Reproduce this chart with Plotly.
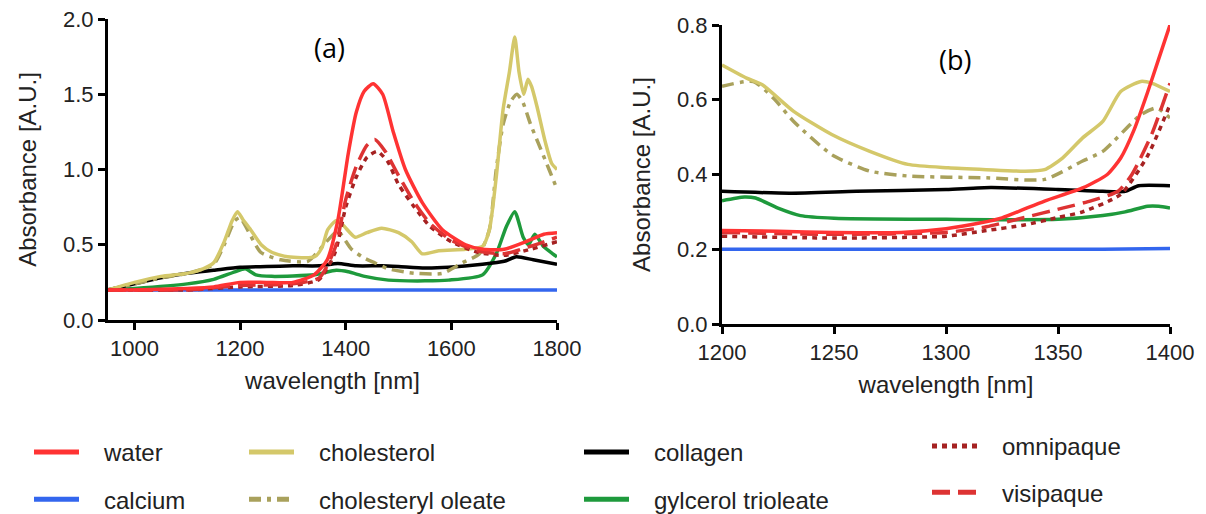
import plotly.graph_objects as go

# ---------------- data: panel (a) ----------------
wl_water_a = [950, 1000, 1100, 1150, 1200, 1250, 1300, 1340, 1365, 1385, 1405, 1420, 1435, 1452, 1470, 1490, 1513, 1545, 1583, 1627, 1660, 1700, 1748, 1775, 1800]
ab_water_a = [0.20, 0.20, 0.21, 0.22, 0.25, 0.25, 0.25, 0.30, 0.40, 0.66, 1.11, 1.38, 1.52, 1.57, 1.50, 1.25, 1.00, 0.78, 0.60, 0.50, 0.47, 0.47, 0.53, 0.57, 0.58]

wl_omni_a = [950, 1100, 1200, 1300, 1350, 1380, 1400, 1420, 1440, 1460, 1480, 1500, 1530, 1560, 1600, 1650, 1700, 1750, 1800]
ab_omni_a = [0.20, 0.20, 0.22, 0.23, 0.27, 0.45, 0.75, 0.95, 1.08, 1.12, 1.05, 0.90, 0.75, 0.62, 0.52, 0.45, 0.43, 0.47, 0.52]

wl_visi_a = [950, 1100, 1200, 1300, 1350, 1380, 1400, 1420, 1440, 1455, 1475, 1500, 1530, 1560, 1600, 1650, 1700, 1750, 1800]
ab_visi_a = [0.20, 0.20, 0.23, 0.24, 0.28, 0.48, 0.80, 1.02, 1.16, 1.20, 1.12, 0.96, 0.78, 0.64, 0.53, 0.46, 0.44, 0.49, 0.55]

wl_chol_a = [950, 1000, 1050, 1100, 1130, 1150, 1170, 1185, 1195, 1205, 1220, 1240, 1260, 1290, 1341, 1355, 1366, 1382, 1395, 1418, 1440, 1468, 1500, 1525, 1545, 1576, 1627, 1659, 1672, 1685, 1698, 1710, 1720, 1728, 1737, 1745, 1752, 1762, 1778, 1790, 1800]
ab_chol_a = [0.20, 0.25, 0.29, 0.31, 0.34, 0.38, 0.52, 0.66, 0.72, 0.67, 0.60, 0.50, 0.45, 0.42, 0.42, 0.48, 0.60, 0.66, 0.63, 0.55, 0.58, 0.61, 0.58, 0.52, 0.44, 0.46, 0.47, 0.49, 0.60, 0.95, 1.40, 1.65, 1.88, 1.65, 1.50, 1.60, 1.55, 1.42, 1.18, 1.04, 1.00]

wl_oleate_a = [950, 1000, 1050, 1100, 1150, 1170, 1190, 1200, 1214, 1239, 1277, 1328, 1366, 1385, 1411, 1436, 1455, 1481, 1532, 1583, 1621, 1653, 1672, 1685, 1698, 1712, 1724, 1735, 1750, 1764, 1785, 1800]
ab_oleate_a = [0.20, 0.24, 0.28, 0.31, 0.37, 0.50, 0.66, 0.68, 0.60, 0.45, 0.40, 0.39, 0.53, 0.59, 0.47, 0.41, 0.38, 0.34, 0.31, 0.31, 0.38, 0.44, 0.60, 1.00, 1.30, 1.45, 1.50, 1.45, 1.30, 1.18, 1.00, 0.87]

wl_coll_a = [950, 1000, 1050, 1100, 1150, 1200, 1250, 1300, 1350, 1385, 1420, 1468, 1500, 1550, 1595, 1659, 1700, 1723, 1755, 1800]
ab_coll_a = [0.20, 0.24, 0.28, 0.31, 0.33, 0.35, 0.355, 0.36, 0.36, 0.375, 0.36, 0.36, 0.355, 0.345, 0.35, 0.37, 0.39, 0.42, 0.40, 0.37]

wl_gly_a = [950, 1000, 1100, 1150, 1190, 1210, 1230, 1260, 1341, 1382, 1405, 1436, 1481, 1550, 1595, 1659, 1685, 1704, 1720, 1736, 1746, 1758, 1774, 1792, 1800]
ab_gly_a = [0.20, 0.21, 0.24, 0.27, 0.32, 0.34, 0.30, 0.29, 0.30, 0.33, 0.32, 0.29, 0.265, 0.26, 0.265, 0.30, 0.44, 0.62, 0.72, 0.55, 0.50, 0.57, 0.49, 0.44, 0.42]

wl_calc_a = [950, 1200, 1400, 1600, 1800]
ab_calc_a = [0.20, 0.20, 0.20, 0.20, 0.20]

# ---------------- data: panel (b) ----------------
wl_water_b = [1200, 1225, 1250, 1280, 1300, 1315, 1325, 1344, 1361, 1372, 1378, 1384, 1390, 1395, 1400]
ab_water_b = [0.25, 0.248, 0.245, 0.245, 0.255, 0.27, 0.284, 0.329, 0.364, 0.40, 0.444, 0.52, 0.62, 0.71, 0.80]

wl_visi_b = [1200, 1250, 1300, 1318, 1335, 1352, 1365, 1377, 1383, 1392, 1400]
ab_visi_b = [0.245, 0.24, 0.245, 0.26, 0.285, 0.31, 0.33, 0.356, 0.40, 0.51, 0.644]

wl_omni_b = [1200, 1250, 1300, 1318, 1335, 1350, 1361, 1378, 1390, 1400]
ab_omni_b = [0.235, 0.23, 0.235, 0.25, 0.265, 0.285, 0.30, 0.347, 0.45, 0.587]

wl_chol_b = [1200, 1211, 1218, 1232, 1249, 1266, 1283, 1301, 1318, 1335, 1344, 1352, 1361, 1370, 1378, 1387, 1392, 1400]
ab_chol_b = [0.693, 0.658, 0.64, 0.569, 0.507, 0.462, 0.427, 0.418, 0.413, 0.409, 0.413, 0.444, 0.498, 0.542, 0.622, 0.649, 0.644, 0.622]

wl_oleate_b = [1200, 1214, 1223, 1232, 1249, 1266, 1283, 1318, 1344, 1361, 1370, 1387, 1394, 1400]
ab_oleate_b = [0.636, 0.649, 0.604, 0.542, 0.453, 0.409, 0.396, 0.391, 0.387, 0.436, 0.462, 0.56, 0.578, 0.551]

wl_coll_b = [1200, 1230, 1260, 1300, 1320, 1350, 1370, 1380, 1386, 1400]
ab_coll_b = [0.355, 0.35, 0.355, 0.36, 0.365, 0.36, 0.355, 0.355, 0.37, 0.37]

wl_gly_b = [1200, 1210, 1215, 1225, 1235, 1250, 1300, 1350, 1370, 1380, 1390, 1395, 1400]
ab_gly_b = [0.33, 0.34, 0.337, 0.31, 0.29, 0.283, 0.28, 0.28, 0.29, 0.30, 0.315, 0.315, 0.31]

wl_calc_b = [1200, 1300, 1370, 1400]
ab_calc_b = [0.20, 0.20, 0.20, 0.202]

# ---------------- styles ----------------
series = [
    # name, color, dash, legend, a-data, b-data
    ("calcium", "#3366EE", "solid", "legend", (wl_calc_a, ab_calc_a), (wl_calc_b, ab_calc_b)),
    ("glycerol", "#1E9A3C", "solid", "legend3", (wl_gly_a, ab_gly_a), (wl_gly_b, ab_gly_b)),
    ("collagen", "#000000", "solid", "legend3", (wl_coll_a, ab_coll_a), (wl_coll_b, ab_coll_b)),
    ("cholesteryl oleate", "#A9A15C", "12px,6px,4px,6px", "legend2", (wl_oleate_a, ab_oleate_a), (wl_oleate_b, ab_oleate_b)),
    ("cholesterol", "#D4C86A", "solid", "legend2", (wl_chol_a, ab_chol_a), (wl_chol_b, ab_chol_b)),
    ("omnipaque", "#A52222", "5px,5px", "legend4", (wl_omni_a, ab_omni_a), (wl_omni_b, ab_omni_b)),
    ("visipaque", "#DD3333", "18px,8px", "legend4", (wl_visi_a, ab_visi_a), (wl_visi_b, ab_visi_b)),
    ("water", "#FF3333", "solid", "legend", (wl_water_a, ab_water_a), (wl_water_b, ab_water_b)),
]
legend_names = {"glycerol": "gylcerol trioleate"}
legend_rank = {"water": 1, "calcium": 2, "cholesterol": 1, "cholesteryl oleate": 2,
               "collagen": 1, "glycerol": 2, "omnipaque": 1, "visipaque": 2}
PAD = "\u00a0\u00a0\u00a0"

fig = go.Figure()
for name, color, dash, leg, (xa, ya), (xb, yb) in series:
    label = legend_names.get(name, name)
    fig.add_trace(go.Scatter(x=xa, y=ya, mode="lines", name=PAD + label,
                             line=dict(color=color, width=3.5, dash=dash, shape="spline", smoothing=0.6),
                             legend=leg, legendgroup=name, legendrank=legend_rank[name],
                             showlegend=True, xaxis="x", yaxis="y"))
    fig.add_trace(go.Scatter(x=xb, y=yb, mode="lines", name=PAD + label,
                             line=dict(color=color, width=3.5, dash=dash, shape="spline", smoothing=0.6),
                             legend=leg, legendgroup=name, showlegend=False,
                             xaxis="x2", yaxis="y2"))

FONT = "Liberation Sans, Arial, sans-serif"
tickfont = dict(family=FONT, size=22, color="#222")
titlefont = dict(family=FONT, size=24, color="#222")
axis_common = dict(showline=True, linecolor="black", linewidth=3, ticks="outside",
                   ticklen=7, tickwidth=3, tickcolor="black", showgrid=False, zeroline=False,
                   tickfont=tickfont, mirror=False, automargin=False)

W, H = 1206, 514
def px_x(a, b):
    return [a / W, b / W]
def px_y(top, bottom):
    return [(H - bottom) / H, (H - top) / H]

fig.update_layout(
    width=W, height=H, margin=dict(l=0, r=0, t=0, b=0, autoexpand=False),
    paper_bgcolor="white", plot_bgcolor="white",
    xaxis=dict(domain=px_x(108, 557), range=[950, 1800], tickvals=[1000, 1200, 1400, 1600, 1800],
               title=dict(text="wavelength [nm]", font=titlefont, standoff=12), anchor="y", **axis_common),
    yaxis=dict(domain=px_y(19, 320), range=[0, 2.0], tickvals=[0, 0.5, 1.0, 1.5, 2.0], tickformat=".1f",
               title=dict(text="Absorbance [A.U.]", font=titlefont, standoff=20), anchor="x", **axis_common),
    xaxis2=dict(domain=px_x(722, 1170), range=[1200, 1400], tickvals=[1200, 1250, 1300, 1350, 1400],
                title=dict(text="wavelength [nm]", font=titlefont, standoff=12), anchor="y2", **axis_common),
    yaxis2=dict(domain=px_y(25, 324), range=[0, 0.8], tickvals=[0, 0.2, 0.4, 0.6, 0.8], tickformat=".1f",
                title=dict(text="Absorbance [A.U.]", font=titlefont, standoff=20), anchor="x2", **axis_common),
    annotations=[
        dict(text="(a)", x=329 / W, xref="paper", y=(H - 47) / H, yref="paper", showarrow=False,
             xanchor="center", yanchor="middle", font=dict(family="Open Sans, sans-serif", size=27, color="black")),
        dict(text="(b)", x=955 / W, xref="paper", y=(H - 59) / H, yref="paper", showarrow=False,
             xanchor="center", yanchor="middle", font=dict(family="Open Sans, sans-serif", size=27, color="black")),
    ],
)

legfont = dict(family=FONT, size=24, color="#222")
def leg(x, y, gap):
    return dict(x=x / W, y=(H - y) / H, xanchor="left", yanchor="top", orientation="v",
                traceorder="grouped", tracegroupgap=gap, font=legfont, bgcolor="rgba(0,0,0,0)",
                itemwidth=45, itemsizing="constant")

fig.update_layout(legend=leg(29, 430, 13), legend2=leg(244, 430, 13),
                  legend3=leg(579, 430, 13), legend4=leg(927, 424, 12))

fig.write_html("out.html")
